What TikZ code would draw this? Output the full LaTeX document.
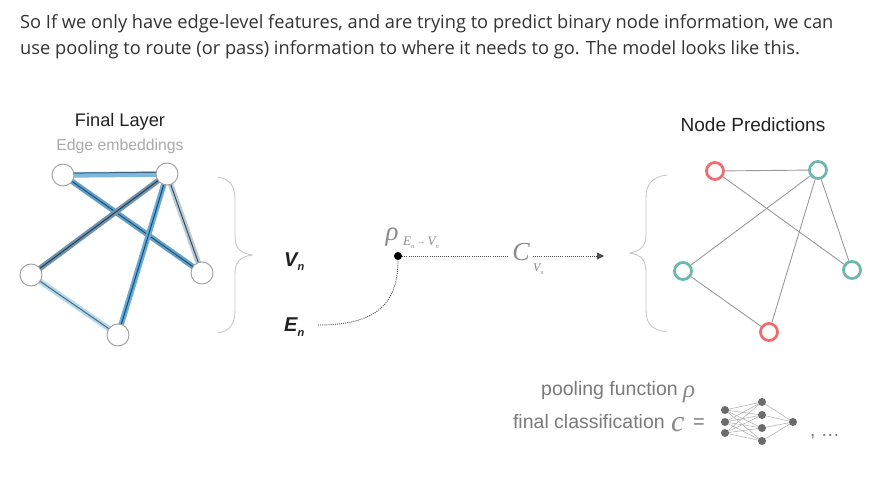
\documentclass[tikz,border=0pt]{standalone}
\usepackage{fontspec}
\setmainfont{Open Sans}
\setsansfont{Liberation Sans}
\newfontfamily\serifit{Liberation Serif}
\newfontfamily\lab{Liberation Sans}
\usetikzlibrary{arrows.meta}
\definecolor{txt}{HTML}{333333}
\definecolor{lbl}{HTML}{222222}
\definecolor{sub}{HTML}{AAAAAA}
\definecolor{gry}{HTML}{7A7A7A}
\definecolor{mgry}{HTML}{8A8A8A}
\definecolor{teal}{HTML}{6DB7AF}
\definecolor{redn}{HTML}{F06B6B}
\tikzset{
  gnode/.style={circle,draw=black!38,fill=white,line width=0.9pt,minimum size=22pt,inner sep=0pt},
  tnode/.style={circle,draw=teal,fill=white,line width=2.8pt,minimum size=17pt,inner sep=0pt},
  rnode/.style={circle,draw=redn,fill=white,line width=2.8pt,minimum size=17pt,inner sep=0pt},
  pedge/.style={draw=black!40,line width=0.9pt},
  glow/.style={line width=5.5pt},
  core/.style={line width=1pt},
  brace/.style={draw=black!22,line width=0.9pt},
  dots/.style={draw=black!70,line width=0.9pt,dash pattern=on 1pt off 1.1pt},
  nn/.style={circle,fill=black!58,inner sep=0pt,minimum size=8pt},
  nnl/.style={draw=black!32,line width=0.5pt},
  mathg/.style={text=mgry},
}
\begin{document}
\begin{tikzpicture}[x=1pt,y=-1pt]
\useasboundingbox (0,0) rectangle (883,494);
\fill[white] (0,0) rectangle (883,494);
% top text
\node[anchor=base west,inner sep=0pt,text=txt,font=\fontsize{18.25}{20}\selectfont] (t1) at (20,29) {So If we only have edge-level features, and are trying to predict binary node information, we can};
\node[anchor=base west,inner sep=0pt,text=txt,font=\fontsize{18.25}{20}\selectfont] (t2) at (20,55) {use pooling to route (or pass) information to where it needs to go. The model looks like this.};
% left graph
\node[text=lbl,font=\lab\fontsize{18.2}{20}\selectfont] (fl) at (120,122) {Final Layer};
\node[text=sub,font=\lab\fontsize{15.8}{18}\selectfont] (ee) at (120,146) {Edge embeddings};
\coordinate (A) at (63,175);
\coordinate (B) at (167,174);
\coordinate (C) at (31,275);
\coordinate (D) at (202,273);
\coordinate (E) at (118,335);
\draw[glow,draw={rgb,255:red,176;green,218;blue,240}] (C) -- (E);
\draw[core,draw={rgb,255:red,85;green,100;blue,112}] (C) -- (E);
\draw[glow,draw={rgb,255:red,184;green,204;blue,216}] (B) -- (D);
\draw[core,draw={rgb,255:red,60;green,72;blue,82}] (B) -- (D);
\draw[glow,draw={rgb,255:red,128;green,184;blue,220}] (A) -- (B);
\draw[core,draw={rgb,255:red,60;green,100;blue,130}] ([yshift=1.8pt]A) -- ([yshift=1.8pt]B);
\draw[glow,draw={rgb,255:red,98;green,160;blue,204}] (A) -- (D);
\draw[core,draw={rgb,255:red,40;green,80;blue,110}] (A) -- (D);
\draw[glow,draw={rgb,255:red,110;green,148;blue,176}] (B) -- (C);
\draw[core,draw={rgb,255:red,40;green,60;blue,80}] (B) -- (C);
\draw[glow,draw={rgb,255:red,100;green,170;blue,218}] (B) -- (E);
\draw[core,draw={rgb,255:red,30;green,70;blue,100}] (B) -- (E);
\node[gnode] (nA) at (A) {};
\node[gnode] (nB) at (B) {};
\node[gnode] (nC) at (C) {};
\node[gnode] (nD) at (D) {};
\node[gnode] (nE) at (E) {};
% brace after left graph
\draw[brace] (218,177) .. controls (230,179) and (235,186) .. (235,200) -- (235,236) .. controls (235,248) and (240,253) .. (252,255)
  .. controls (240,257) and (235,262) .. (235,274) -- (235,310) .. controls (235,324) and (230,331) .. (218,333);
% V_n, E_n
\node[text=lbl,font=\lab\fontsize{20}{22}\bfseries\itshape,anchor=base west,inner sep=0pt] (Vn) at (284,266) {V\raisebox{-5pt}{\fontsize{11}{12}\selectfont n}};
\node[text=lbl,font=\lab\fontsize{20}{22}\bfseries\itshape,anchor=base west,inner sep=0pt] (En) at (284,331) {E\raisebox{-5pt}{\fontsize{11}{12}\selectfont n}};
% middle
\node[circle,fill=black,inner sep=0pt,minimum size=8pt] (dot) at (398,256) {};
\node[mathg,font=\serifit\itshape\fontsize{27}{27}\selectfont,anchor=base] (rho) at (392,241) {ρ};
\node[mathg,font=\serifit\itshape\fontsize{13}{13}\selectfont,anchor=base west,inner sep=0pt] (rhos) at (403,246) {E\raisebox{-2.5pt}{\fontsize{6.5}{7}\selectfont n}\,\raisebox{1pt}{\fontsize{9}{9}\selectfont →}\,V\raisebox{-2.5pt}{\fontsize{6.5}{7}\selectfont n}};
\node[mathg,font=\serifit\itshape\fontsize{26}{26}\selectfont,anchor=base] (cc) at (521,261) {C};
\node[mathg,font=\serifit\itshape\fontsize{12}{12}\selectfont,anchor=base west,inner sep=0pt] (ccs) at (533,272) {V\raisebox{-2.5pt}{\fontsize{6}{6}\selectfont n}};
\coordinate (cin) at (509,256);
\coordinate (cout) at (533,256);
\coordinate (arrend) at (604,256);
\coordinate (estart) at (318,325);
\draw[dots] (dot) -- (cin);
\draw[dots,-{Triangle[length=7pt,width=7pt]}] (cout) -- (arrend);
\draw[dots] (estart) .. controls (375,325) and (398,305) .. (dot.south);
% right graph
\node[text=lbl,font=\lab\fontsize{19}{21}\selectfont] (np) at (753,125) {Node Predictions};
\draw[brace] (667,175) .. controls (652,177) and (646,184) .. (646,198) -- (646,234) .. controls (646,246) and (641,251) .. (630,253)
  .. controls (641,255) and (646,260) .. (646,272) -- (646,310) .. controls (646,324) and (652,330) .. (667,332);
\coordinate (R1) at (715,171);
\coordinate (T1) at (818,170);
\coordinate (T2) at (683,271);
\coordinate (T3) at (852,270);
\coordinate (R2) at (769,332);
\node[rnode] (nR1) at (R1) {};
\node[tnode] (nT1) at (T1) {};
\node[tnode] (nT2) at (T2) {};
\node[tnode] (nT3) at (T3) {};
\node[rnode] (nR2) at (R2) {};
\draw[pedge] (nR1) -- (nT1);
\draw[pedge] (nR1) -- (nT3);
\draw[pedge] (nT1) -- (nT2);
\draw[pedge] (nT1) -- (nR2);
\draw[pedge] (nT1) -- (nT3);
\draw[pedge] (nT2) -- (nR2);
% legend
\node[text=gry,font=\lab\fontsize{19.5}{21}\selectfont,anchor=base east,inner sep=0pt] (pf) at (678,395) {pooling function};
\node[mathg,font=\serifit\itshape\fontsize{25}{25}\selectfont,anchor=base west,inner sep=0pt] (pfr) at (683,397) {ρ};
\node[text=gry,font=\lab\fontsize{19.5}{21}\selectfont,anchor=base east,inner sep=0pt] (fc) at (665,428) {final classification};
\node[mathg,font=\serifit\itshape\fontsize{30}{30}\selectfont,anchor=base west,inner sep=0pt] (fcc) at (671,431) {c};
\node[text=gry,font=\lab\fontsize{20}{20}\selectfont,anchor=base west,inner sep=0pt] (eq) at (693,428) {=};
\foreach \i/\y in {1/410,2/422,3/433} \coordinate (i\i) at (725,\y);
\foreach \j/\y in {1/402,2/415,3/428,4/441} \coordinate (h\j) at (762,\y);
\coordinate (o1) at (793,422);
\foreach \i in {1,2,3} \foreach \j in {1,2,3,4} \draw[nnl] (i\i) -- (h\j);
\foreach \j in {1,2,3,4} \draw[nnl] (h\j) -- (o1);
\foreach \i in {1,2,3} \node[nn] (ni\i) at (i\i) {};
\foreach \j in {1,2,3,4} \node[nn] (nh\j) at (h\j) {};
\node[nn] (no1) at (o1) {};
\node[text=gry,font=\lab\fontsize{19}{19}\selectfont,anchor=base west,inner sep=0pt] (etc) at (810,436) {, \dots};
\end{tikzpicture}
\end{document}
